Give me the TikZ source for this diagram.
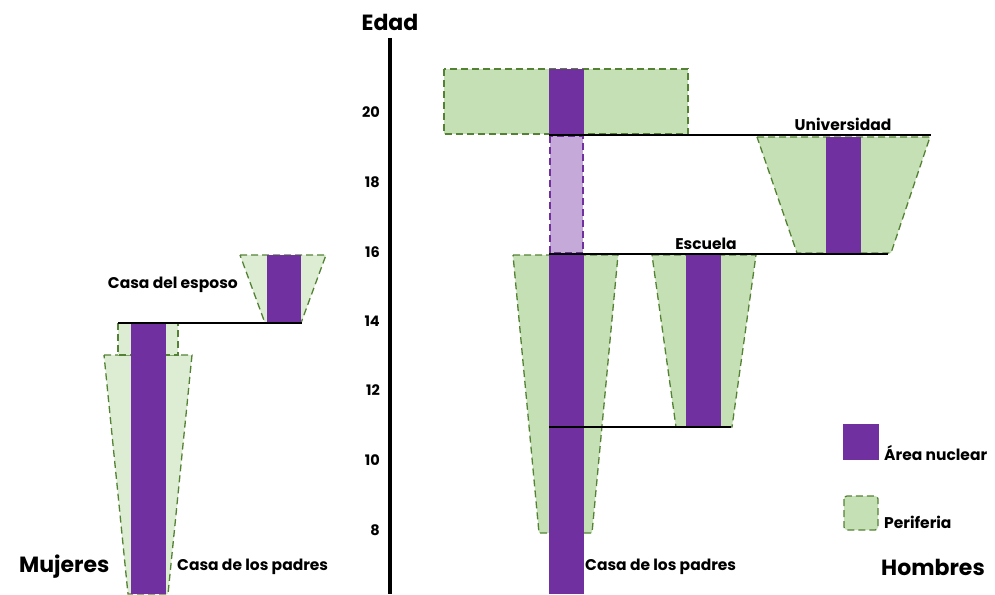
\documentclass[tikz,border=0pt]{standalone}
\usepackage{fontspec}
\setmainfont{Poppins}
\definecolor{NucPurple}{RGB}{112, 48, 160}
\definecolor{NucLight}{RGB}{197, 169, 216}
\definecolor{PeriGreen}{RGB}{197, 224, 180}
\definecolor{PeriLight}{RGB}{221, 237, 211}
\definecolor{PeriBorder}{RGB}{84, 130, 53}
\usetikzlibrary{positioning}

\begin{document}
\begin{tikzpicture}[
            x=1pt, y=-1pt,
            peri/.style={fill=PeriGreen, draw=PeriBorder, line width=1.3pt, dash pattern=on 7pt off 4pt},
            perilight/.style={peri, fill=PeriLight},
            nucleo/.style={fill=NucPurple},
            hito/.style={line width=1.6pt},
            lbl/.style={font=\fontsize{15.5}{17}\selectfont\bfseries, inner sep=0pt},
            big/.style={font=\fontsize{22}{24}\selectfont\bfseries, inner sep=0pt},
            tick/.style={font=\fontsize{14.5}{16}\selectfont\bfseries, anchor=east, inner sep=0pt},
        ]
            \useasboundingbox (0,0) rectangle (995,594);
            % eje de edad
            \draw[line width=4pt] (390,38) -- (390,594);
            \node[big] (edad) at (390,22) {Edad};
            \foreach \a/\yy in {20/112, 18/182, 16/252, 14/321, 12/390, 10/460, 8/530}
                \node[tick] (t\a) at (380,\yy) {\a};

            % mujeres
            \draw[perilight] (104,355) -- (192,355) -- (168,594) -- (128,594) -- cycle;
            \draw[perilight] (118,323) rectangle (178,355);
            \fill[nucleo] (131,323) rectangle (166,594);
            \draw[perilight] (240,255) -- (326,255) -- (301,323) -- (265,323) -- cycle;
            \fill[nucleo] (267,255) rectangle (301,323);
            \coordinate (mA) at (118,323);
            \coordinate (mB) at (302,323);
            \draw[hito] (mA) -- (mB);
            \node[lbl, anchor=east] (esposo) at (238,285) {Casa del esposo};
            \node[lbl, anchor=west] (padresM) at (177,567) {Casa de los padres};
            \node[big, anchor=west] (mujeres) at (19,567) {Mujeres};

            % hombres
            \draw[peri] (444,69) rectangle (688,134);
            \fill[nucleo] (549,69) rectangle (584,134);
            \draw[peri, fill=NucLight, draw=NucPurple] (550,136) rectangle (583,253);
            \draw[peri] (757,137) -- (930,137) -- (891,253) -- (797,253) -- cycle;
            \fill[nucleo] (826,137) rectangle (861,253);
            \draw[peri] (513,255) -- (618,255) -- (592,533) -- (539,533) -- cycle;
            \fill[nucleo] (549,255) rectangle (584,594);
            \draw[peri] (652,255) -- (756,255) -- (732,427) -- (676,427) -- cycle;
            \fill[nucleo] (686,255) rectangle (721,427);
            \coordinate (uA) at (549,135);
            \coordinate (uB) at (931,135);
            \coordinate (eA) at (549,254);
            \coordinate (eB) at (888,254);
            \coordinate (sA) at (549,427);
            \coordinate (sB) at (731,427);
            \draw[hito] (uA) -- (uB);
            \draw[hito] (eA) -- (eB);
            \draw[hito] (sA) -- (sB);
            \node[lbl, above=4pt of uB, xshift=-88pt] (univ) {Universidad};
            \node[lbl, above=4pt of eB, xshift=-182pt] (escuela) {Escuela};
            \node[lbl, anchor=west] (padresH) at (585,567) {Casa de los padres};
            \node[big, anchor=east] (hombres) at (985,567) {Hombres};

            % leyenda
            \fill[nucleo] (843,424) rectangle (879,460) coordinate (legN);
            \node[lbl, anchor=south west] (nuclear) at (884,461) {Área nuclear};
            \draw[peri, rounded corners=3pt] (844,496) rectangle (878,530) coordinate (legP);
            \node[lbl, anchor=south west] (periferia) at (884,529) {Periferia};
        \end{tikzpicture}
\end{document}
